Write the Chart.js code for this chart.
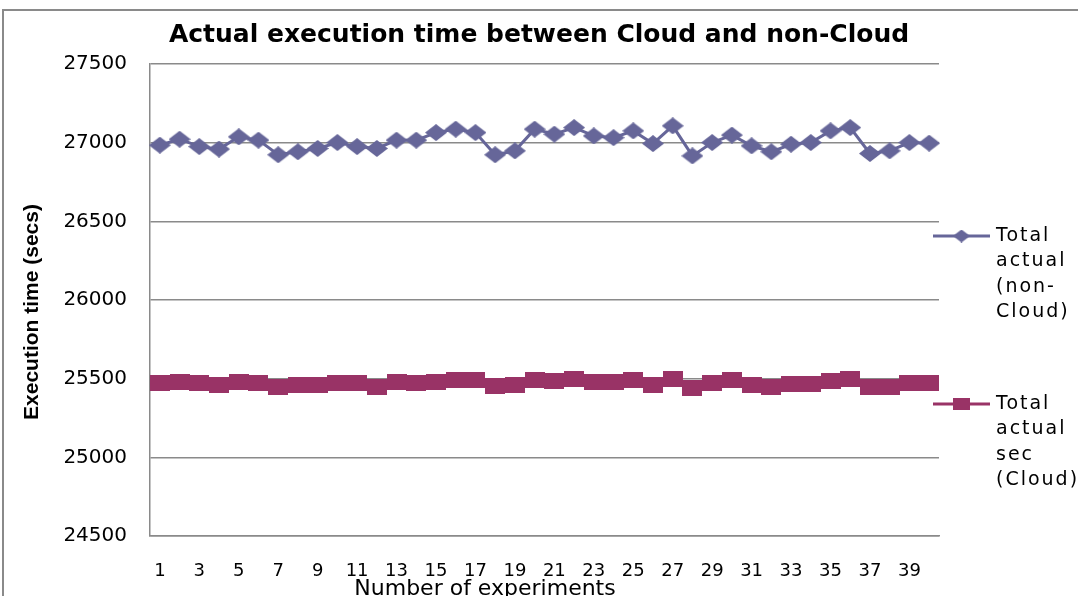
<!DOCTYPE html>
<html>
<head>
<meta charset="utf-8">
<script src="https://cdn.jsdelivr.net/npm/chart.js@4/dist/chart.umd.min.js"></script>
<style>
  html, body { margin: 0; padding: 0; background: #fff; }
</style>
</head>
<body>
<canvas id="chart" width="1078" height="596"></canvas>
<script>
"use strict";

const experiments = ['1', '2', '3', '4', '5', '6', '7', '8', '9', '10',
                     '11', '12', '13', '14', '15', '16', '17', '18', '19', '20',
                     '21', '22', '23', '24', '25', '26', '27', '28', '29', '30',
                     '31', '32', '33', '34', '35', '36', '37', '38', '39', '40'];

const nonCloudSecs = [26984, 27022, 26975, 26959, 27037, 27016, 26923, 26942, 26963, 27001,
                      26975, 26963, 27016, 27016, 27064, 27086, 27064, 26923, 26948, 27086,
                      27054, 27096, 27043, 27032, 27075, 26994, 27107, 26916, 27001, 27048,
                      26980, 26942, 26990, 27001, 27075, 27096, 26931, 26948, 27001, 26997];

const cloudSecs = [25470, 25481, 25470, 25459, 25481, 25471, 25449, 25459, 25459, 25470,
                   25470, 25449, 25481, 25470, 25481, 25491, 25491, 25453, 25459, 25491,
                   25486, 25498, 25481, 25481, 25489, 25459, 25498, 25440, 25470, 25489,
                   25459, 25449, 25466, 25468, 25486, 25498, 25449, 25449, 25470, 25470];

const yTicks = [24500, 25000, 25500, 26000, 26500, 27000, 27500];

const seriesNames = [
    ['Total', 'actual', '(non-', 'Cloud)'],
    ['Total', 'actual', 'sec', '(Cloud)']
];

const xAxisTitle = 'Number of experiments';
const yAxisTitle = 'Execution time (secs)';

const blue = '#666699';
const plum = '#993366';
const gridGrey = '#8a8a8a';

// excel style markers are a bit wider than tall
function makeMarker(shape, w, h, color)
{
    const c = document.createElement('canvas');
    c.width = w;
    c.height = h;
    const g = c.getContext('2d');
    g.fillStyle = color;
    if (shape === 'diamond') {
        g.beginPath();
        g.moveTo(w / 2, 0);
        g.lineTo(w, h / 2);
        g.lineTo(w / 2, h);
        g.lineTo(0, h / 2);
        g.closePath();
        g.fill();
    } else {
        g.fillRect(0, 0, w, h);
    }
    return c;
}

const diamond = makeMarker('diamond', 22, 17, blue);
const square = makeMarker('square', 20, 16, plum);
const legendMarks = [makeMarker('diamond', 17, 13, blue), makeMarker('square', 17, 12, plum)];

const frame = {
    id: 'frame',
    beforeDraw(chart) {
        const ctx = chart.ctx;
        ctx.save();
        ctx.strokeStyle = gridGrey;
        ctx.lineWidth = 2;
        ctx.strokeRect(3, 10, 1300, 900);
        ctx.restore();
    }
};

// legend on the right with wrapped names, plus both axis titles
// (they sit off-centre in the original, so drawn here rather than by the scales)
const sideLegend = {
    id: 'sideLegend',
    afterDraw(chart) {
        const ctx = chart.ctx;
        const area = chart.chartArea;
        const rows = [area.top + 172, area.top + 340];
        ctx.save();
        ctx.font = '19px "DejaVu Sans"';
        ctx.letterSpacing = '2px';
        ctx.textBaseline = 'middle';
        ctx.fillStyle = '#000';
        chart.data.datasets.forEach((ds, i) => {
            const y = rows[i];
            const x0 = area.right - 6;
            const x1 = area.right + 51;
            ctx.strokeStyle = ds.borderColor;
            ctx.lineWidth = 3;
            ctx.beginPath();
            ctx.moveTo(x0, y);
            ctx.lineTo(x1, y);
            ctx.stroke();
            const m = legendMarks[i];
            ctx.drawImage(m, (x0 + x1) / 2 - m.width / 2, y - m.height / 2);
            seriesNames[i].forEach((line, k) => {
                ctx.fillText(line, area.right + 57, y + k * 25.5);
            });
        });
        ctx.letterSpacing = '0px';
        ctx.textAlign = 'center';
        ctx.font = '22px "DejaVu Sans"';
        ctx.fillText(xAxisTitle, 485, area.bottom + 53);

        ctx.translate(32, 312);
        ctx.rotate(-Math.PI / 2);
        ctx.font = 'bold 21px "Liberation Sans"';
        ctx.fillText(yAxisTitle, 0, 0);
        ctx.restore();
    }
};

new Chart(document.getElementById('chart'), {
    type: 'line',
    data: {
        labels: experiments,
        datasets: [{
            label: seriesNames[0].join(' '),
            data: nonCloudSecs,
            borderColor: blue,
            backgroundColor: blue,
            borderWidth: 3,
            pointStyle: diamond,
            tension: 0
        }, {
            label: seriesNames[1].join(' '),
            data: cloudSecs,
            borderColor: plum,
            backgroundColor: plum,
            borderWidth: 3,
            pointStyle: square,
            tension: 0
        }]
    },
    options: {
        responsive: false,
        animation: false,
        devicePixelRatio: 1,
        layout: { padding: 0 },
        plugins: {
            legend: { display: false },
            tooltip: { enabled: false },
            title: {
                display: true,
                text: 'Actual execution time between Cloud and non-Cloud',
                color: '#000',
                font: { family: '"DejaVu Sans"', size: 25, weight: 'bold', lineHeight: 1.2 },
                padding: { top: 20, bottom: 14 }
            }
        },
        scales: {
            x: {
                offset: true,
                grid: { display: false },
                border: { display: true, color: gridGrey, width: 1.5 },
                ticks: {
                    autoSkip: false,
                    maxRotation: 0,
                    padding: 17,
                    color: '#000',
                    font: { family: '"DejaVu Sans"', size: 18 },
                    callback: function(value, index) {
                        return index % 2 === 0 ? experiments[index] : '';
                    }
                },
                afterFit: function(scale) { scale.height = 60; }
            },
            y: {
                min: 24500,
                max: 27500,
                afterBuildTicks: function(scale) {
                    scale.ticks = yTicks.map(v => ({ value: v }));
                },
                grid: { color: gridGrey, lineWidth: 1.5, drawTicks: false },
                border: { display: true, color: gridGrey, width: 1.5 },
                ticks: {
                    padding: 23,
                    color: '#000',
                    font: { family: '"DejaVu Sans"', size: 20 },
                    callback: function(value) { return String(value); }
                },
                afterFit: function(scale) { scale.width = 150; }
            },
            legendSpace: {
                position: 'right',
                min: 0,
                max: 1,
                grid: { display: false },
                border: { display: false },
                ticks: { display: false },
                afterFit: function(scale) { scale.width = 139; }
            }
        }
    },
    plugins: [frame, sideLegend]
});
</script>
</body>
</html>
